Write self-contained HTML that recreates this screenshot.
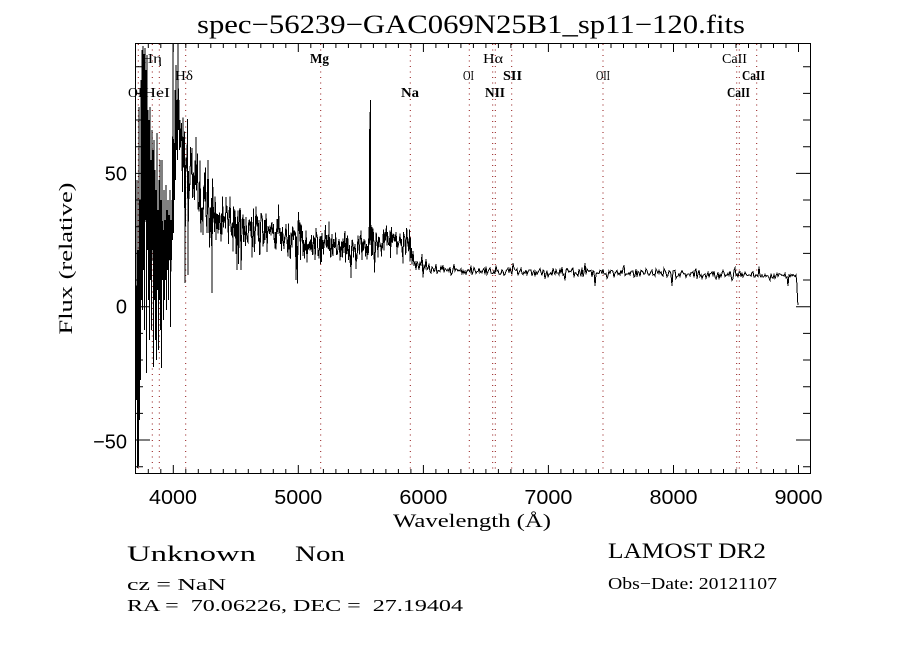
<!DOCTYPE html>
<html>
<head>
<meta charset="utf-8">
<style>
html,body{margin:0;padding:0;background:#fff;}
svg{display:block;}
.serif{font-family:"Liberation Serif","DejaVu Serif",serif;fill:#000;}
.sans{font-family:"Liberation Sans","DejaVu Sans",sans-serif;fill:#000;}
.lab{font-family:"Liberation Serif","DejaVu Serif",serif;font-size:14px;fill:#000;}
</style>
</head>
<body>
<svg width="900" height="650" viewBox="0 0 900 650" xmlns="http://www.w3.org/2000/svg">
<rect x="0" y="0" width="900" height="650" fill="#fff"/>

<text class="serif" x="197" y="33" font-size="26" textLength="548" lengthAdjust="spacingAndGlyphs">spec−56239−GAC069N25B1_sp11−120.fits</text>

<g stroke="#8f1010" stroke-width="1" stroke-dasharray="1 4.5" fill="none">
<path d="M138.3 44V473M152.3 44V473M159.3 44V473M185.7 44V473M320.7 44V473M410.3 44V473M469.3 44V473M492.7 44V473M495.3 44V473M511.7 44V473M603 44V473M736.7 44V473M739.3 44V473M756.7 44V473"/>
</g>

<path id="spec" fill="none" stroke="#000" stroke-width="1" shape-rendering="crispEdges" d="M136 330L136.5 400L137 180L137.5 468L138 250L138.5 466L139 107L139.5 420L140 200L140.5 380L141 80L141.5 300L142 50L142.5 310L143 46L143.5 270L144 60L144.5 330L145 48L145.5 220L146 70L146.5 373L147 55L147.5 250L148 110L148.5 300L149 120L149.5 340L150 107L150.5 280L151 160L151.5 330L152 130L152.5 250L153 150L153.5 367L154 140L154.5 300L155 170L155.5 340L156 190L156.5 360L157 133L157.5 290L158 210L158.5 350L159 180L159.5 300L160 160L160.5 330L161 200L161.5 368L162 160L162.5 280L163 230L163.5 320L164 190L164.5 300L165 220L165.5 280L166 185L166.5 310L167 210L167.5 270L168 200L168.5 300L169 215L169.5 260L170 190L170.5 327L171 220L171.5 260L172 200L172.5 240L173 44L173.5 233L174 150L174.5 200L175 90L175.5 180L176 65L176.5 150L177 100L177.5 160L178 44L178.5 130L179 100L179.5 150L180 120L184 165L188 136L192 200L196 162L200 225L204 182L208 230L212 190L216 235L220 198L224 238L228 204L232 240L236 208L240 241L244 211L248 244L252 214L256 243L260 216L264 245L268 218L272 247L276 220L280 249L284 222L288 250L292 225L296 251L300 228L304 253L308 230L312 255L316 233L320 258L324 237L328 261L332 239L336 261L340 239L344 261L348 239L352 261L356 238L360 259L364 236L368 257L369.5 245L370 129L370.5 100L371 240L372 256L376 233L380 254L384 231L388 252L392 229L396 251L400 229L404 251L408 229L412 262L416 258L420 272L428 266L436 275L444 269L452 276L460 270L468 275L476 269L484 275L492 270L500 275L508 270L513 263L520 275L528 270L536 276L544 270L552 276L560 271L568 276L576 271L584 276L592 271L595 286L600 272L608 276L616 271L624 265L632 276L640 272L648 277L656 271L664 277L672 286L680 272L688 277L696 272L704 277L712 272L720 277L728 272L735 268L744 277L752 273L760 278L768 273L776 278L784 274L788 286L792 276L796 275L797 285L798 305"/>

<rect x="135.5" y="43.5" width="675" height="430" fill="none" stroke="#000" stroke-width="1"/>

<g stroke="#000" stroke-width="1" fill="none">
<path d="M148.3 473v-4M160.8 473v-4M185.8 473v-4M198.3 473v-4M210.8 473v-4M223.3 473v-4M235.8 473v-4M248.3 473v-4M260.8 473v-4M273.3 473v-4M285.8 473v-4M310.8 473v-4M323.4 473v-4M335.9 473v-4M348.4 473v-4M360.9 473v-4M373.4 473v-4M385.9 473v-4M398.4 473v-4M410.9 473v-4M435.9 473v-4M448.4 473v-4M460.9 473v-4M473.4 473v-4M485.9 473v-4M498.4 473v-4M510.9 473v-4M523.4 473v-4M535.9 473v-4M560.9 473v-4M573.4 473v-4M586 473v-4M598.5 473v-4M611 473v-4M623.5 473v-4M636 473v-4M648.5 473v-4M661 473v-4M686 473v-4M698.5 473v-4M711 473v-4M723.5 473v-4M736 473v-4M748.5 473v-4M761 473v-4M773.5 473v-4M786 473v-4"/>
<path d="M173.3 473v-8M298.3 473v-8M423.4 473v-8M548.4 473v-8M673.5 473v-8M798.5 473v-8"/>
<path d="M148.3 44v4M160.8 44v4M185.8 44v4M198.3 44v4M210.8 44v4M223.3 44v4M235.8 44v4M248.3 44v4M260.8 44v4M273.3 44v4M285.8 44v4M310.8 44v4M323.4 44v4M335.9 44v4M348.4 44v4M360.9 44v4M373.4 44v4M385.9 44v4M398.4 44v4M410.9 44v4M435.9 44v4M448.4 44v4M460.9 44v4M473.4 44v4M485.9 44v4M498.4 44v4M510.9 44v4M523.4 44v4M535.9 44v4M560.9 44v4M573.4 44v4M586 44v4M598.5 44v4M611 44v4M623.5 44v4M636 44v4M648.5 44v4M661 44v4M686 44v4M698.5 44v4M711 44v4M723.5 44v4M736 44v4M748.5 44v4M761 44v4M773.5 44v4M786 44v4"/>
<path d="M173.3 44v8M298.3 44v8M423.4 44v8M548.4 44v8M673.5 44v8M798.5 44v8"/>
<path d="M136 466.7h7M136 413.4h7M136 386.7h7M136 360h7M136 333.4h7M136 280h7M136 253.4h7M136 226.7h7M136 200h7M136 146.7h7M136 120h7M136 93.4h7M136 66.7h7"/>
<path d="M136 440h14M136 306.7h14M136 173.4h14"/>
<path d="M810 466.7h-7M810 413.4h-7M810 386.7h-7M810 360h-7M810 333.4h-7M810 280h-7M810 253.4h-7M810 226.7h-7M810 200h-7M810 146.7h-7M810 120h-7M810 93.4h-7M810 66.7h-7"/>
<path d="M810 440h-14M810 306.7h-14M810 173.4h-14"/>
</g>

<text class="lab" x="128" y="97" textLength="19" lengthAdjust="spacingAndGlyphs">OII</text>
<text class="lab" x="143" y="97" textLength="27" lengthAdjust="spacingAndGlyphs">HeI</text>
<text class="lab" x="141" y="63" textLength="21" lengthAdjust="spacingAndGlyphs">Hη</text>
<text class="lab" x="175" y="80" textLength="18" lengthAdjust="spacingAndGlyphs">Hδ</text>
<text class="lab" x="310" y="63" textLength="19" lengthAdjust="spacingAndGlyphs" font-weight="bold">Mg</text>
<text class="lab" x="401" y="97" textLength="18" lengthAdjust="spacingAndGlyphs" font-weight="bold">Na</text>
<text class="lab" x="483" y="63" textLength="20" lengthAdjust="spacingAndGlyphs">Hα</text>
<text class="lab" x="463" y="80" textLength="11" lengthAdjust="spacingAndGlyphs">OI</text>
<text class="lab" x="503" y="80" textLength="19" lengthAdjust="spacingAndGlyphs" font-weight="bold">SII</text>
<text class="lab" x="485" y="97" textLength="20" lengthAdjust="spacingAndGlyphs" font-weight="bold">NII</text>
<text class="lab" x="596" y="80" textLength="14" lengthAdjust="spacingAndGlyphs">OII</text>
<text class="lab" x="722" y="63" textLength="25" lengthAdjust="spacingAndGlyphs">CaII</text>
<text class="lab" x="742" y="80" textLength="23" lengthAdjust="spacingAndGlyphs" font-weight="bold">CaII</text>
<text class="lab" x="727" y="97" textLength="23" lengthAdjust="spacingAndGlyphs" font-weight="bold">CaII</text>

<g class="sans" font-size="20" text-anchor="middle">
<text x="173" y="504" textLength="48" lengthAdjust="spacingAndGlyphs">4000</text>
<text x="298.3" y="504" textLength="48" lengthAdjust="spacingAndGlyphs">5000</text>
<text x="423.4" y="504" textLength="48" lengthAdjust="spacingAndGlyphs">6000</text>
<text x="548.4" y="504" textLength="48" lengthAdjust="spacingAndGlyphs">7000</text>
<text x="673.5" y="504" textLength="48" lengthAdjust="spacingAndGlyphs">8000</text>
<text x="798.5" y="504" textLength="48" lengthAdjust="spacingAndGlyphs">9000</text>
</g>
<g class="sans" font-size="20" text-anchor="end">
<text x="127" y="180.5">50</text>
<text x="127" y="313.5">0</text>
<text x="127" y="448.5">−50</text>
</g>

<text class="serif" x="393" y="527" font-size="19" textLength="158" lengthAdjust="spacingAndGlyphs">Wavelength (Å)</text>
<text class="serif" transform="rotate(-90)" x="-258.5" y="72" font-size="19" text-anchor="middle" textLength="152" lengthAdjust="spacingAndGlyphs">Flux (relative)</text>

<text class="serif" x="127" y="561" font-size="22" textLength="129" lengthAdjust="spacingAndGlyphs">Unknown</text>
<text class="serif" x="295" y="561" font-size="22" textLength="50" lengthAdjust="spacingAndGlyphs">Non</text>
<text class="serif" x="127" y="590" font-size="16.5" textLength="99" lengthAdjust="spacingAndGlyphs">cz = NaN</text>
<text class="serif" x="127" y="611" font-size="16.5" textLength="336" lengthAdjust="spacingAndGlyphs" xml:space="preserve">RA =  70.06226, DEC =  27.19404</text>
<text class="serif" x="608" y="558" font-size="22" textLength="158" lengthAdjust="spacingAndGlyphs">LAMOST DR2</text>
<text class="serif" x="608" y="589" font-size="16.5" textLength="169" lengthAdjust="spacingAndGlyphs">Obs−Date: 20121107</text>
</svg>

<script>
(function(){
var s=20121107;
function r(){s^=s<<13;s^=s>>>17;s^=s<<5;return (s>>>0)/4294967296;}
function n(){return (r()+r()+r()-1.5)*2;}
function it(t,x){if(x<=t[0][0])return t[0][1];for(var i=0;i<t.length-1;i++){if(x<=t[i+1][0]){var a=t[i],b=t[i+1];return a[1]+(b[1]-a[1])*(x-a[0])/(b[0]-a[0]);}}return t[t.length-1][1];}
var M=[[180,120],[186,150],[192,175],[200,200],[215,215],[230,222],[250,228],[280,235],[310,243],[330,250],[350,250],[368,246],[390,240],[408,240],[414,262],[430,270],[500,272],[600,273],[700,274],[790,276]];
var A=[[180,22],[200,18],[230,13],[280,11],[330,9],[408,9],[412,8],[425,5],[440,2.6],[800,2.2]];
var L=[136,330,136.5,400,137,180,137.5,468,138,250,138.5,466,139,107,139.5,420,140,200,140.5,380,141,80,141.5,300,142,50,142.5,310,143,46,143.5,270,144,60,144.5,330,145,48,145.5,220,146,70,146.5,373,147,55,147.5,250,148,110,148.5,300,149,120,149.5,340,150,107,150.5,280,151,160,151.5,330,152,130,152.5,250,153,150,153.5,367,154,140,154.5,300,155,170,155.5,340,156,190,156.5,360,157,133,157.5,290,158,210,158.5,350,159,180,159.5,300,160,160,160.5,330,161,200,161.5,368,162,160,162.5,280,163,230,163.5,320,164,190,164.5,300,165,220,165.5,280,166,185,166.5,310,167,210,167.5,270,168,200,168.5,300,169,215,169.5,260,170,190,170.5,327,171,220,171.5,260,172,200,172.5,240,173,44,173.5,233,174,150,174.5,200,175,90,175.5,180,176,65,176.5,150,177,100,177.5,160,178,44,178.5,130,179,100,179.5,150,180,120];
var O={185:283,188:275,212:293,196:137,208:160,237:270,296:280,513:263,595:286,624:265,672:286,735:268,788:286};
var pts=[];
for(var i=0;i<L.length;i+=2)pts.push(L[i].toFixed(1)+' '+L[i+1].toFixed(1));
var x=180.5;
while(x<795.5){
  var y;
  if(x===370){
    pts.push('369.6 129','369.8 245','370.3 100','370.6 240');
  } else if(x===370.5){
  } else {
    if(O.hasOwnProperty(x)){y=O[x];}
    else{
      var a=it(A,x);
      y=it(M,x)+a*n()*(r()<0.07?1.9:1);
      if(y<44)y=44;
    }
    pts.push(x.toFixed(1)+' '+y.toFixed(1));
  }
  x+=(x<412?0.5:1);
}
pts.push('796 275','797 285','797.5 300','798 305');
document.getElementById('spec').setAttribute('d','M'+pts.join('L'));
})();
</script>
</body>
</html>
